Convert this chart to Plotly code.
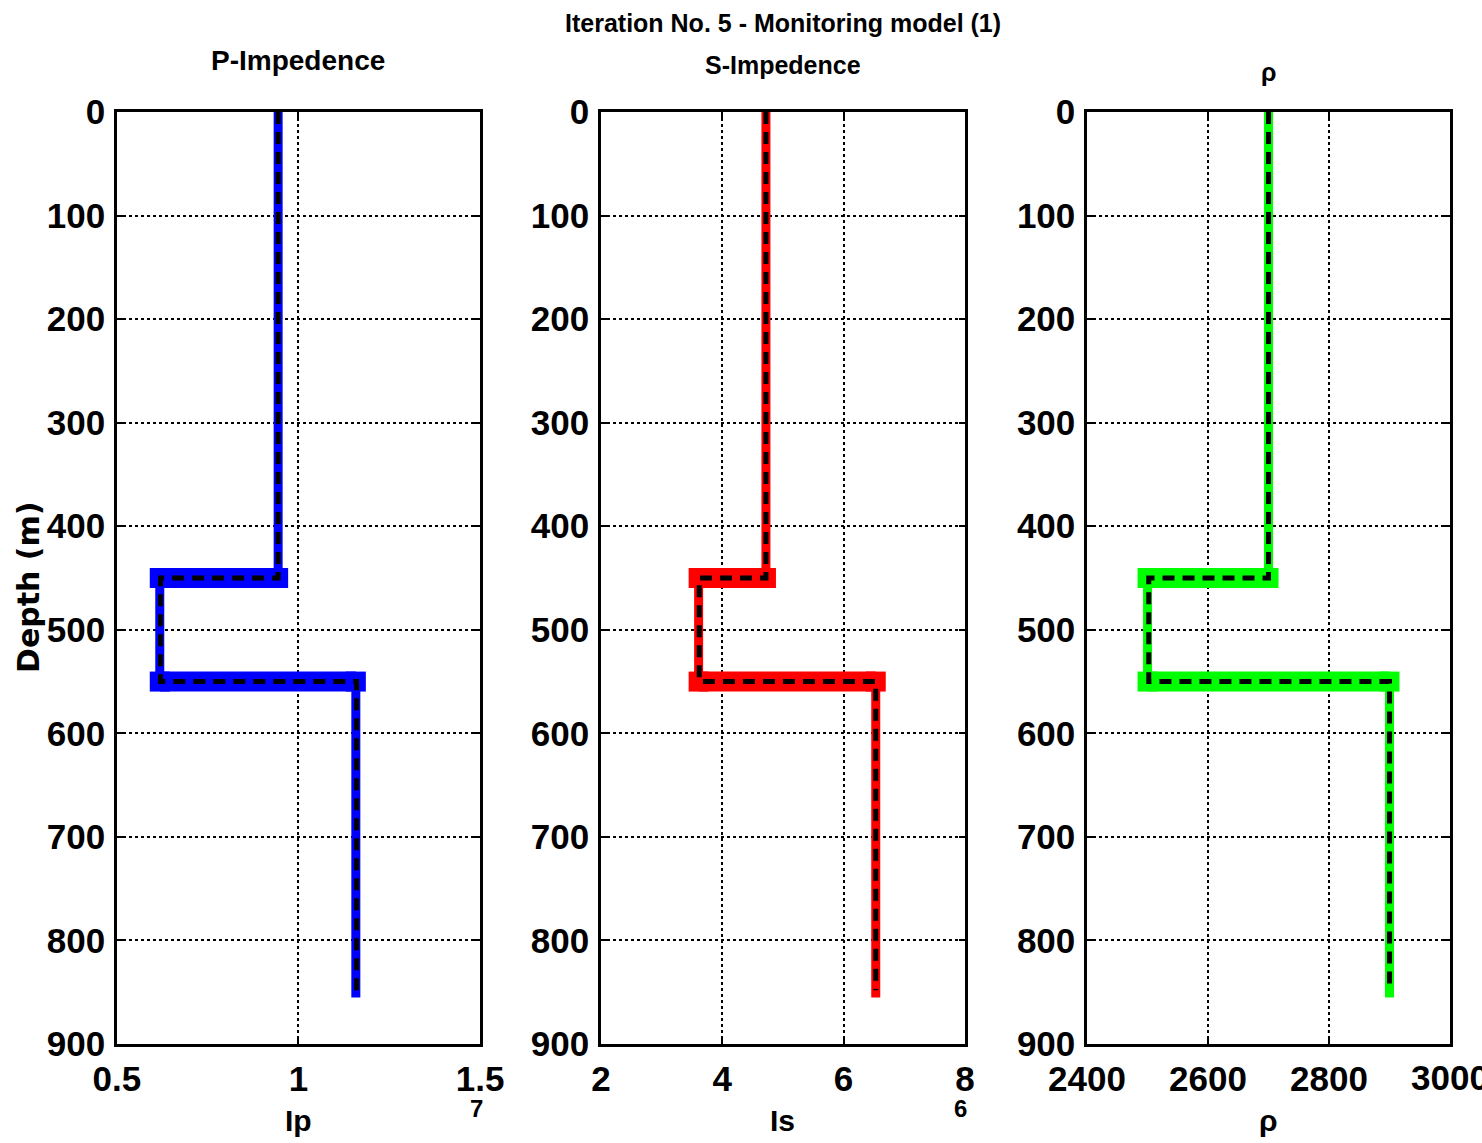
import plotly.graph_objects as go

# ---- data ----
depth_steps = [0, 450, 450, 550, 550, 855]
ip_inv = [0.944, 0.944, 0.618, 0.618, 1.158, 1.158]      # x1e7
is_inv = [4.72, 4.72, 3.61, 3.61, 6.53, 6.53]            # x1e6
rho_inv = [2700, 2700, 2500, 2500, 2900, 2900]

depth_true = [0, 450, 450, 550, 550, 848]
ip_true = [0.944, 0.944, 0.62, 0.62, 1.16, 1.16]
is_true = [4.72, 4.72, 3.62, 3.62, 6.53, 6.53]
rho_true = [2700, 2700, 2502, 2502, 2900, 2900]

band_depths = [450, 550]

panel_titles = ["P-Impedence", "S-Impedence", "ρ"]
xlabels = ["Ip", "Is", "ρ"]
x_ranges = [[0.5, 1.5], [2, 8], [2400, 3000]]
x_ticks = [[0.5, 1, 1.5], [2, 4, 6, 8], [2400, 2600, 2800, 3000]]
x_ticktext = [["0.5", "1", "1.5"], ["2", "4", "6", "8"], ["2400", "2600", "2800", "3000"]]
y_ticks = [0, 100, 200, 300, 400, 500, 600, 700, 800, 900]
colors = ["#0000ff", "#ff0000", "#00ff00"]
exponents = ["7", "6", None]

inv = [ip_inv, is_inv, rho_inv]
true = [ip_true, is_true, rho_true]

FONT = "Liberation Sans, Arial"

fig = go.Figure()
domains = [[0.0789, 0.3239], [0.4055, 0.6511], [0.7335, 0.9784]]
ydom = [0.0866, 0.902]

for i in range(3):
    xa = "x" if i == 0 else f"x{i+1}"
    ya = "y" if i == 0 else f"y{i+1}"
    c = colors[i]
    fig.add_trace(go.Scatter(x=inv[i], y=depth_steps, mode="lines",
                             line=dict(color=c, width=9), xaxis=xa, yaxis=ya,
                             showlegend=False))
    for k, d in enumerate(band_depths):
        xs = [inv[i][1 + 2 * k], inv[i][2 + 2 * k]]
        fig.add_trace(go.Scatter(x=xs, y=[d, d], mode="lines+markers",
                                 line=dict(color=c, width=20),
                                 marker=dict(symbol="square", size=20, color=c),
                                 xaxis=xa, yaxis=ya, showlegend=False))
    fig.add_trace(go.Scatter(x=true[i], y=depth_true, mode="lines",
                             line=dict(color="black", width=5, dash="12px,8px"),
                             xaxis=xa, yaxis=ya, showlegend=False))

TICKFONT = dict(family=FONT, size=35, color="black", weight="bold")
axis_common = dict(showline=True, linecolor="black", linewidth=2.5, mirror="ticks",
                   ticks="inside", ticklen=6, tickwidth=1.5, tickcolor="black",
                   showgrid=True, gridcolor="black", gridwidth=1.5, griddash="dot",
                   zeroline=False, automargin=False, tickfont=TICKFONT)

layout = dict(width=1482, height=1143, margin=dict(l=0, r=0, t=0, b=0, autoexpand=False),
              paper_bgcolor="white", plot_bgcolor="white", showlegend=False)

for i in range(3):
    xk = "xaxis" if i == 0 else f"xaxis{i+1}"
    yk = "yaxis" if i == 0 else f"yaxis{i+1}"
    ya = "y" if i == 0 else f"y{i+1}"
    xa = "x" if i == 0 else f"x{i+1}"
    layout[xk] = dict(axis_common, domain=domains[i], range=x_ranges[i],
                      tickvals=x_ticks[i], ticktext=x_ticktext[i], anchor=ya,
                      ticklabelstandoff=2)
    layout[yk] = dict(axis_common, domain=ydom, range=[900, 0],
                      tickvals=y_ticks, anchor=xa, ticklabelstandoff=2)

fig.update_layout(**layout)

ann = []
ann.append(dict(text="Iteration No. 5 - Monitoring model (1)", x=0.5282, y=1 - 23 / 1143,
                xref="paper", yref="paper", showarrow=False, xanchor="center", yanchor="middle",
                font=dict(family=FONT, size=25, color="black", weight="bold")))
title_y = [60, 65, 72]
title_sizes = [28, 25, 25]
for i in range(3):
    cx = (domains[i][0] + domains[i][1]) / 2
    ann.append(dict(text=panel_titles[i], x=cx, y=1 - title_y[i] / 1143, xref="paper", yref="paper",
                    showarrow=False, xanchor="center", yanchor="middle",
                    font=dict(family=FONT, size=title_sizes[i], color="black", weight="bold")))
    ann.append(dict(text=xlabels[i], x=cx, y=1 - 1120 / 1143, xref="paper", yref="paper",
                    showarrow=False, xanchor="center", yanchor="middle",
                    font=dict(family=FONT, size=30, color="black", weight="bold")))
    if exponents[i]:
        ann.append(dict(text=exponents[i], x=domains[i][1] - 4 / 1482, y=1 - 1108 / 1143,
                        xref="paper", yref="paper", showarrow=False, xanchor="center",
                        yanchor="middle",
                        font=dict(family=FONT, size=24, color="black", weight="bold")))
# last rho tick label, which runs off the page edge (clipped, as in the reference)
ann.append(dict(text=x_ticktext[2][-1], x=x_ticks[2][-1], xref="x3", y=1 - 1077 / 1143,
                yref="paper", showarrow=False, xanchor="center", yanchor="middle",
                font=TICKFONT))
ann.append(dict(text="Depth (m)", x=28 / 1482, y=1 - 587 / 1143, xref="paper", yref="paper",
                showarrow=False, textangle=-90, xanchor="center", yanchor="middle",
                font=dict(family="DejaVu Sans", size=30, color="black", weight="bold")))
fig.update_layout(annotations=ann)

fig.write_html("out.html")
